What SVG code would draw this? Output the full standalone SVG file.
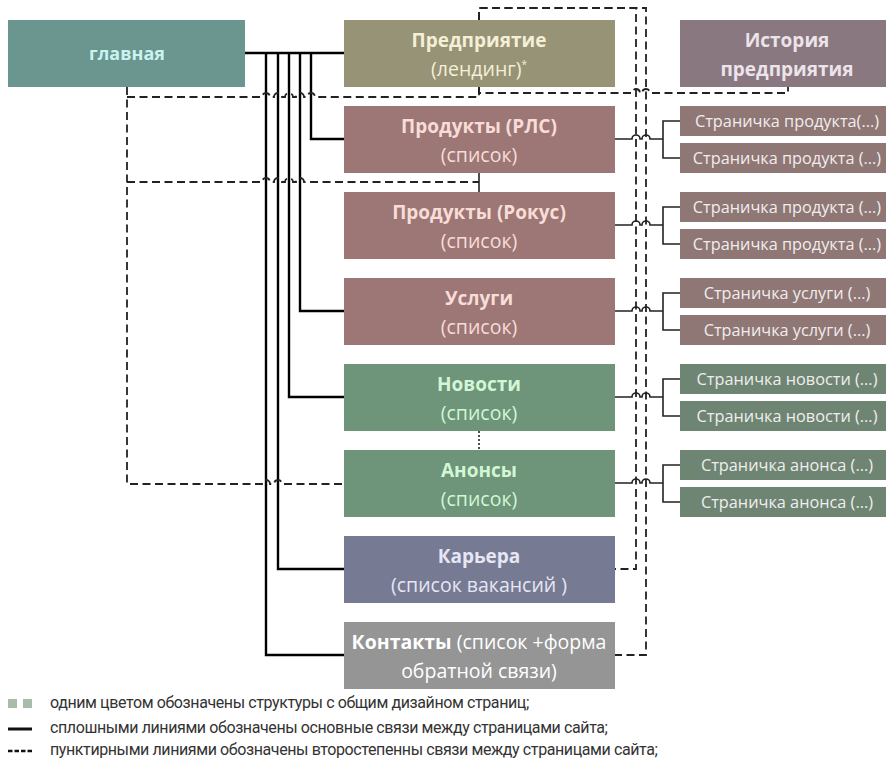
<svg xmlns="http://www.w3.org/2000/svg" width="886" height="769" viewBox="0 0 886 769">
<style>
.t{font-family:"Open Sans","Liberation Sans",sans-serif;text-anchor:middle;font-size:19.5px}
.b{font-weight:700;font-size:19px}
.s{font-family:"Open Sans","Liberation Sans",sans-serif;text-anchor:middle;font-size:16.3px;fill:#f2eded}
.main{fill:none;stroke:#000;stroke-width:2.4}
.thin{fill:none;stroke:#222;stroke-width:1.6}
.dash{fill:none;stroke:#222;stroke-width:1.8;stroke-dasharray:8 4.5}
.lg{font-family:Roboto,"Liberation Sans",sans-serif;font-size:16px;letter-spacing:-0.4px;fill:#333}
</style>
<rect width="886" height="769" fill="#fff"/>

<g id="connectors">
  <path class="main" d="M245,53 H344"/>
  <path class="main" d="M311,53 V139 H344"/>
  <path class="main" d="M300,53 V311 H344"/>
  <path class="main" d="M289,53 V397 H344"/>
  <path class="main" d="M278,53 V569 H344"/>
  <path class="main" d="M266,53 V655 H344"/>
  <path class="thin" d="M479,172 V192"/>
  <path class="thin" d="M479,431 V450" stroke-dasharray="2 2"/>
  <path class="dash" d="M127,87 V484 H262 a4,4 0 0 1 8,0 H274 a4,4 0 0 1 8,0 H344"/>
  <path class="dash" d="M127,97 H262 a4,4 0 0 1 8,0 H274 a4,4 0 0 1 8,0 H285 a4,4 0 0 1 8,0 H296 a4,4 0 0 1 8,0 H307 a4,4 0 0 1 8,0 H479 V87"/>
  <path class="dash" d="M127,182 H262 a4,4 0 0 1 8,0 H274 a4,4 0 0 1 8,0 H285 a4,4 0 0 1 8,0 H296 a4,4 0 0 1 8,0 H479"/>
  <path class="dash" d="M479,87 V93 H632 a4,4 0 0 1 8,0 H642 a4,4 0 0 1 8,0 H788 V87"/>
  <path class="dash" d="M479,20 V8 H636 V569 H615"/>
  <path class="dash" d="M479,20 V8 H646 V655 H615"/>
  <path class="thin" d="M615,139 H632 a4,4 0 0 1 8,0 H642 a4,4 0 0 1 8,0 H663 M680,121 H663 V158 H680"/>
  <path class="thin" d="M615,225 H632 a4,4 0 0 1 8,0 H642 a4,4 0 0 1 8,0 H663 M680,207 H663 V244 H680"/>
  <path class="thin" d="M615,311 H632 a4,4 0 0 1 8,0 H642 a4,4 0 0 1 8,0 H663 M680,293 H663 V330 H680"/>
  <path class="thin" d="M615,397 H632 a4,4 0 0 1 8,0 H642 a4,4 0 0 1 8,0 H663 M680,379 H663 V416 H680"/>
  <path class="thin" d="M615,483 H632 a4,4 0 0 1 8,0 H642 a4,4 0 0 1 8,0 H663 M680,465 H663 V502 H680"/>
</g>

<g id="glavnaya">
  <rect x="8" y="20" width="237" height="67" fill="#6b958f"/>
  <text class="t b" x="127" y="60" font-size="18" fill="#c9f3ee" style="font-size:18px">главная</text>
</g>

<g id="predpriyatie">
  <rect x="344" y="20" width="271" height="67" fill="#979377"/>
  <text class="t b" x="479" y="47" fill="#f4efd6">Предприятие</text>
  <text class="t" x="479" y="76" fill="#f4efd6">(лендинг)<tspan font-size="10" dy="-8">*</tspan></text>
</g>

<g id="produkty-rls">
  <rect x="344" y="106" width="271" height="67" fill="#9c7775"/>
  <text class="t b" x="479" y="133" fill="#f8dcd7">Продукты (РЛС)</text>
  <text class="t" x="479" y="162" fill="#f8dcd7">(список)</text>
</g>

<g id="produkty-rokus">
  <rect x="344" y="192" width="271" height="67" fill="#9c7775"/>
  <text class="t b" x="479" y="219" fill="#f8dcd7">Продукты (Рокус)</text>
  <text class="t" x="479" y="248" fill="#f8dcd7">(список)</text>
</g>

<g id="uslugi">
  <rect x="344" y="278" width="271" height="67" fill="#9c7775"/>
  <text class="t b" x="479" y="305" fill="#f8dcd7">Услуги</text>
  <text class="t" x="479" y="334" fill="#f8dcd7">(список)</text>
</g>

<g id="novosti">
  <rect x="344" y="364" width="271" height="67" fill="#6e9479"/>
  <text class="t b" x="479" y="391" fill="#d2f6d6">Новости</text>
  <text class="t" x="479" y="420" fill="#d2f6d6">(список)</text>
</g>

<g id="anonsy">
  <rect x="344" y="450" width="271" height="67" fill="#6e9479"/>
  <text class="t b" x="479" y="477" fill="#d2f6d6">Анонсы</text>
  <text class="t" x="479" y="506" fill="#d2f6d6">(список)</text>
</g>

<g id="karyera">
  <rect x="344" y="536" width="271" height="67" fill="#777a93"/>
  <text class="t b" x="479" y="563" fill="#e6e6f4">Карьера</text>
  <text class="t" x="479" y="592" fill="#e6e6f4">(список вакансий )</text>
</g>

<g id="kontakty">
  <rect x="344" y="622" width="271" height="67" fill="#959595"/>
  <text class="t" x="479" y="649" fill="#fff"><tspan font-weight="700">Контакты</tspan> (список +форма</text>
  <text class="t" x="479" y="678" fill="#fff">обратной связи)</text>
</g>

<g id="istoriya">
  <rect x="680" y="20" width="214" height="67" fill="#8a7880"/>
  <text class="t b" x="787" y="47" fill="#ece4ea">История</text>
  <text class="t b" x="787" y="76" fill="#ece4ea">предприятия</text>
</g>

<g id="produkt-1"><rect x="680" y="106" width="214" height="30" fill="#8e7775"/><text class="s" x="787" y="127">Страничка продукта(...)</text></g>
<g id="produkt-2"><rect x="680" y="143" width="214" height="30" fill="#8e7775"/><text class="s" x="787" y="164">Страничка продукта (...)</text></g>
<g id="produkt-3"><rect x="680" y="192" width="214" height="30" fill="#8e7775"/><text class="s" x="787" y="213">Страничка продукта (...)</text></g>
<g id="produkt-4"><rect x="680" y="229" width="214" height="30" fill="#8e7775"/><text class="s" x="787" y="250">Страничка продукта (...)</text></g>
<g id="usluga-1"><rect x="680" y="278" width="214" height="30" fill="#8e7775"/><text class="s" x="787" y="299">Страничка услуги (...)</text></g>
<g id="usluga-2"><rect x="680" y="315" width="214" height="30" fill="#8e7775"/><text class="s" x="787" y="336">Страничка услуги (...)</text></g>
<g id="novost-1"><rect x="680" y="364" width="214" height="30" fill="#6d8572"/><text class="s" x="787" y="385">Страничка новости (...)</text></g>
<g id="novost-2"><rect x="680" y="401" width="214" height="30" fill="#6d8572"/><text class="s" x="787" y="422">Страничка новости (...)</text></g>
<g id="anons-1"><rect x="680" y="450" width="214" height="30" fill="#6d8572"/><text class="s" x="787" y="471">Страничка анонса (...)</text></g>
<g id="anons-2"><rect x="680" y="487" width="214" height="30" fill="#6d8572"/><text class="s" x="787" y="508">Страничка анонса (...)</text></g>

<g id="legend">
  <rect x="8" y="699" width="9" height="9" fill="#a9bcac"/>
  <rect x="23" y="699" width="9" height="9" fill="#a9bcac"/>
  <line x1="8" y1="729" x2="32" y2="729" stroke="#111" stroke-width="3"/>
  <line x1="8" y1="751" x2="32" y2="751" stroke="#111" stroke-width="2.5" stroke-dasharray="4.5 2"/>
  <text class="lg" x="50" y="708">одним цветом обозначены структуры с общим дизайном страниц;</text>
  <text class="lg" x="50" y="733">сплошными линиями обозначены основные связи между страницами сайта;</text>
  <text class="lg" x="50" y="755">пунктирными линиями обозначены второстепенны связи между страницами сайта;</text>
</g>
</svg>
